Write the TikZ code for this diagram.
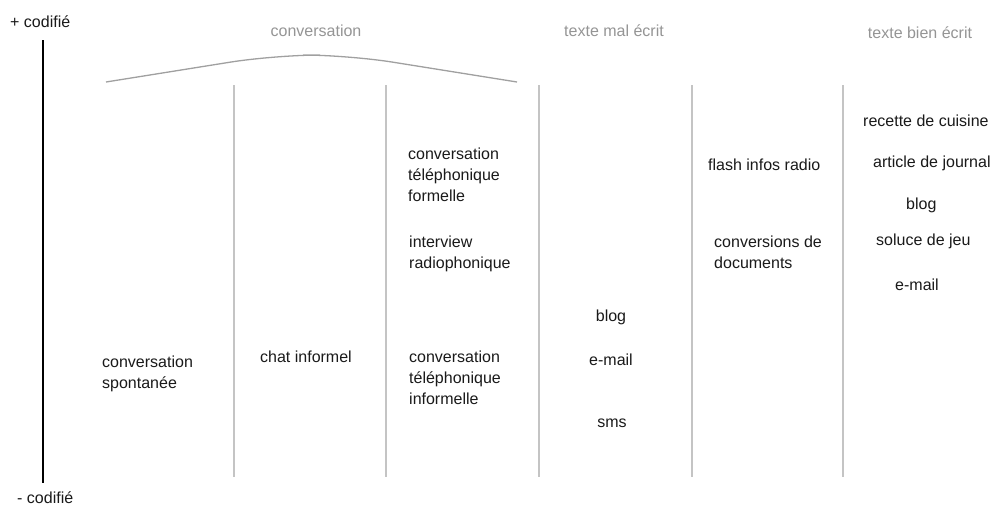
\documentclass[tikz,border=0pt]{standalone}
\usepackage{fontspec}
\setmainfont{Liberation Sans}
\definecolor{sep}{HTML}{C4C4C4}
\definecolor{arc}{HTML}{A0A0A0}
\definecolor{head}{HTML}{959595}
\definecolor{txt}{HTML}{1A1A1A}
\newcommand\mlines[1]{\vtop{\baselineskip=21pt #1}}
\begin{document}
\begin{tikzpicture}[x=1pt,y=-1pt,
  lbl/.style={anchor=base west,inner sep=0pt,text=txt,font=\fontsize{16}{21}\selectfont},
  clbl/.style={anchor=base,inner sep=0pt,text=txt,font=\fontsize{16}{21}\selectfont},
  hd/.style={anchor=base,inner sep=0pt,text=head,font=\fontsize{16}{21}\selectfont},
  sepline/.style={draw=sep,line width=1.4pt},
  axis/.style={draw=black,line width=1.6pt}]
\useasboundingbox (0,0) rectangle (993,507);
\fill[white] (0,0) rectangle (993,507);
% axis
\node[lbl] (plus) at (10,27) {+ codifié};
\node[lbl] (minus) at (17,503) {- codifié};
\coordinate (atop) at (43,40);
\coordinate (abot) at (43,483);
\draw[axis] (atop) -- (abot);
% separators
\foreach \n/\x in {s1/234,s2/386,s3/539,s4/692,s5/843}{
  \coordinate (\n t) at (\x,85);
  \coordinate (\n b) at (\x,477);
  \draw[sepline] (\n t) -- (\n b);
}
% arc
\coordinate (c0) at (106,82);
\coordinate (c1) at (275,55);
\coordinate (c2) at (348,55);
\coordinate (c3) at (517,82);
\draw[draw=arc,line width=1.3pt,rounded corners=45pt] (c0) -- (c1) -- (c2) -- (c3);
% headings
\node[hd] (h1) at (316,36) {conversation};
\node[hd] (h2) at (614,36) {texte mal écrit};
\node[hd] (h3) at (920,38) {texte bien écrit};
% column 1
\node[lbl] (cs) at (102,367) {\mlines{\hbox{conversation}\hbox{spontanée}}};
% column 2
\node[lbl] (ci) at (260,362) {chat informel};
% column 3
\node[lbl] (ctf) at (408,159) {\mlines{\hbox{conversation}\hbox{téléphonique}\hbox{formelle}}};
\node[lbl] (ir) at (409,247) {\mlines{\hbox{interview}\hbox{radiophonique}}};
\node[lbl] (cti) at (409,362) {\mlines{\hbox{conversation}\hbox{téléphonique}\hbox{informelle}}};
% column 4
\node[clbl] (b1) at (611,321) {blog};
\node[clbl] (e1) at (611,365) {e-mail};
\node[clbl] (sms) at (612,427) {sms};
% column 5
\node[lbl] (fir) at (708,170) {flash infos radio};
\node[lbl] (cd) at (714,247) {\mlines{\hbox{conversions de}\hbox{documents}}};
% column 6
\node[lbl] (rc) at (863,126) {recette de cuisine};
\node[lbl] (aj) at (873,167) {article de journal};
\node[lbl] (b2) at (906,209) {blog};
\node[lbl] (sj) at (876,245) {soluce de jeu};
\node[lbl] (e2) at (895,290) {e-mail};
\end{tikzpicture}
\end{document}
